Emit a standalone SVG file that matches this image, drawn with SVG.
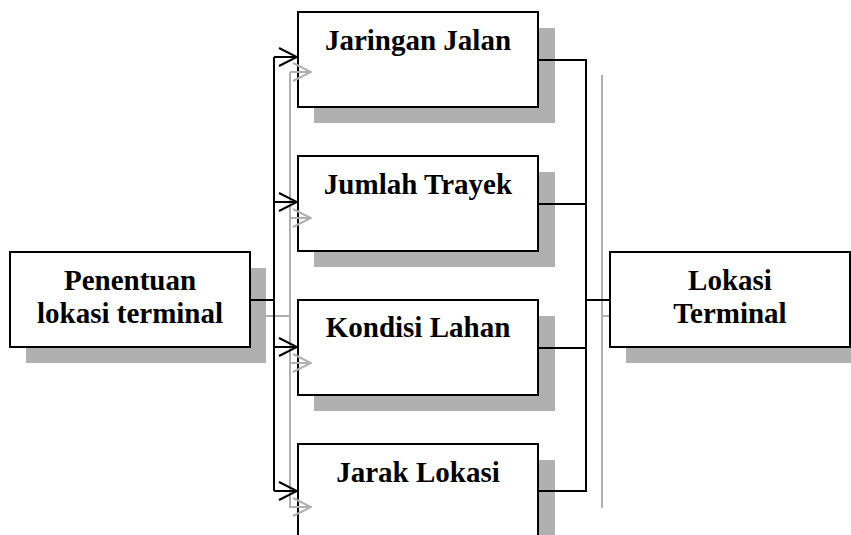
<svg xmlns="http://www.w3.org/2000/svg" width="851" height="535" viewBox="0 0 851 535">
  <defs>
    <style>
      .box { fill: #ffffff; stroke: #000000; stroke-width: 2; }
      .shadow { fill: #b0b0b0; stroke: none; }
      .ln { fill: none; stroke: #000000; stroke-width: 2; }
      .sln { fill: none; stroke: #b0b0b0; stroke-width: 2; }
      .lbl { font-family: "Liberation Serif", "Times New Roman", serif; font-weight: bold; font-size: 29px; fill: #000000; text-anchor: middle; }
    </style>
    <marker id="arr" viewBox="0 0 20 20" refX="19" refY="10" markerWidth="20" markerHeight="20" markerUnits="userSpaceOnUse" orient="auto">
      <path d="M1,1 L19,10 L1,19" fill="none" stroke="#000000" stroke-width="2"/>
    </marker>
    <marker id="sarr" viewBox="0 0 20 20" refX="19" refY="10" markerWidth="20" markerHeight="20" markerUnits="userSpaceOnUse" orient="auto">
      <path d="M1,1 L19,10 L1,19" fill="none" stroke="#b0b0b0" stroke-width="2"/>
    </marker>
  </defs>
  <rect x="0" y="0" width="851" height="535" fill="#ffffff"/>

  <!-- shadows -->
  <g id="shadows">
    <rect class="shadow" x="26" y="268" width="240" height="95"/>
    <rect class="shadow" x="314" y="28" width="241" height="95"/>
    <rect class="shadow" x="314" y="172" width="241" height="95"/>
    <rect class="shadow" x="314" y="316" width="241" height="95"/>
    <rect class="shadow" x="314" y="460" width="241" height="95"/>
    <rect class="shadow" x="626" y="268" width="240" height="95"/>
    <path class="sln" d="M265,316 H290 M290,72 V508 M602,75 V508 M602,316 H626"/>
  </g>

  <!-- connectors -->
  <g id="connectors">
    <path class="ln" d="M250,300 H274 M274,57 V491 M538,60 H586 V491 H538 M538,204 H586 M538,348 H586 M586,300 H610"/>
    <line class="ln" x1="274" y1="57" x2="297" y2="57" marker-end="url(#arr)"/>
    <line class="ln" x1="274" y1="202" x2="297" y2="202" marker-end="url(#arr)"/>
    <line class="ln" x1="274" y1="347" x2="297" y2="347" marker-end="url(#arr)"/>
    <line class="ln" x1="274" y1="491" x2="297" y2="491" marker-end="url(#arr)"/>
  </g>

  <g id="node-penentuan">
    <rect class="box" x="10" y="252" width="240" height="95"/>
    <text class="lbl" x="130" y="290">Penentuan</text>
    <text class="lbl" x="130" y="323">lokasi terminal</text>
  </g>
  <g id="node-jaringan">
    <rect class="box" x="298" y="12" width="240" height="95"/>
    <text class="lbl" x="418" y="50">Jaringan Jalan</text>
  </g>
  <g id="node-jumlah">
    <rect class="box" x="298" y="156" width="240" height="95"/>
    <text class="lbl" x="418" y="194">Jumlah Trayek</text>
  </g>
  <g id="node-kondisi">
    <rect class="box" x="298" y="300" width="240" height="95"/>
    <text class="lbl" x="418" y="337">Kondisi Lahan</text>
  </g>
  <g id="node-jarak">
    <rect class="box" x="298" y="444" width="240" height="95"/>
    <text class="lbl" x="418" y="482">Jarak Lokasi</text>
  </g>
  <g id="node-lokasi">
    <rect class="box" x="610" y="252" width="240" height="95"/>
    <text class="lbl" x="730" y="290">Lokasi</text>
    <text class="lbl" x="730" y="323">Terminal</text>
  </g>

  <!-- shadow arrowheads over boxes -->
  <g id="shadow-arrows">
    <line class="sln" x1="290" y1="72" x2="311" y2="72" marker-end="url(#sarr)"/>
    <line class="sln" x1="290" y1="218" x2="311" y2="218" marker-end="url(#sarr)"/>
    <line class="sln" x1="290" y1="363" x2="311" y2="363" marker-end="url(#sarr)"/>
    <line class="sln" x1="290" y1="507" x2="311" y2="507" marker-end="url(#sarr)"/>
  </g>
</svg>
